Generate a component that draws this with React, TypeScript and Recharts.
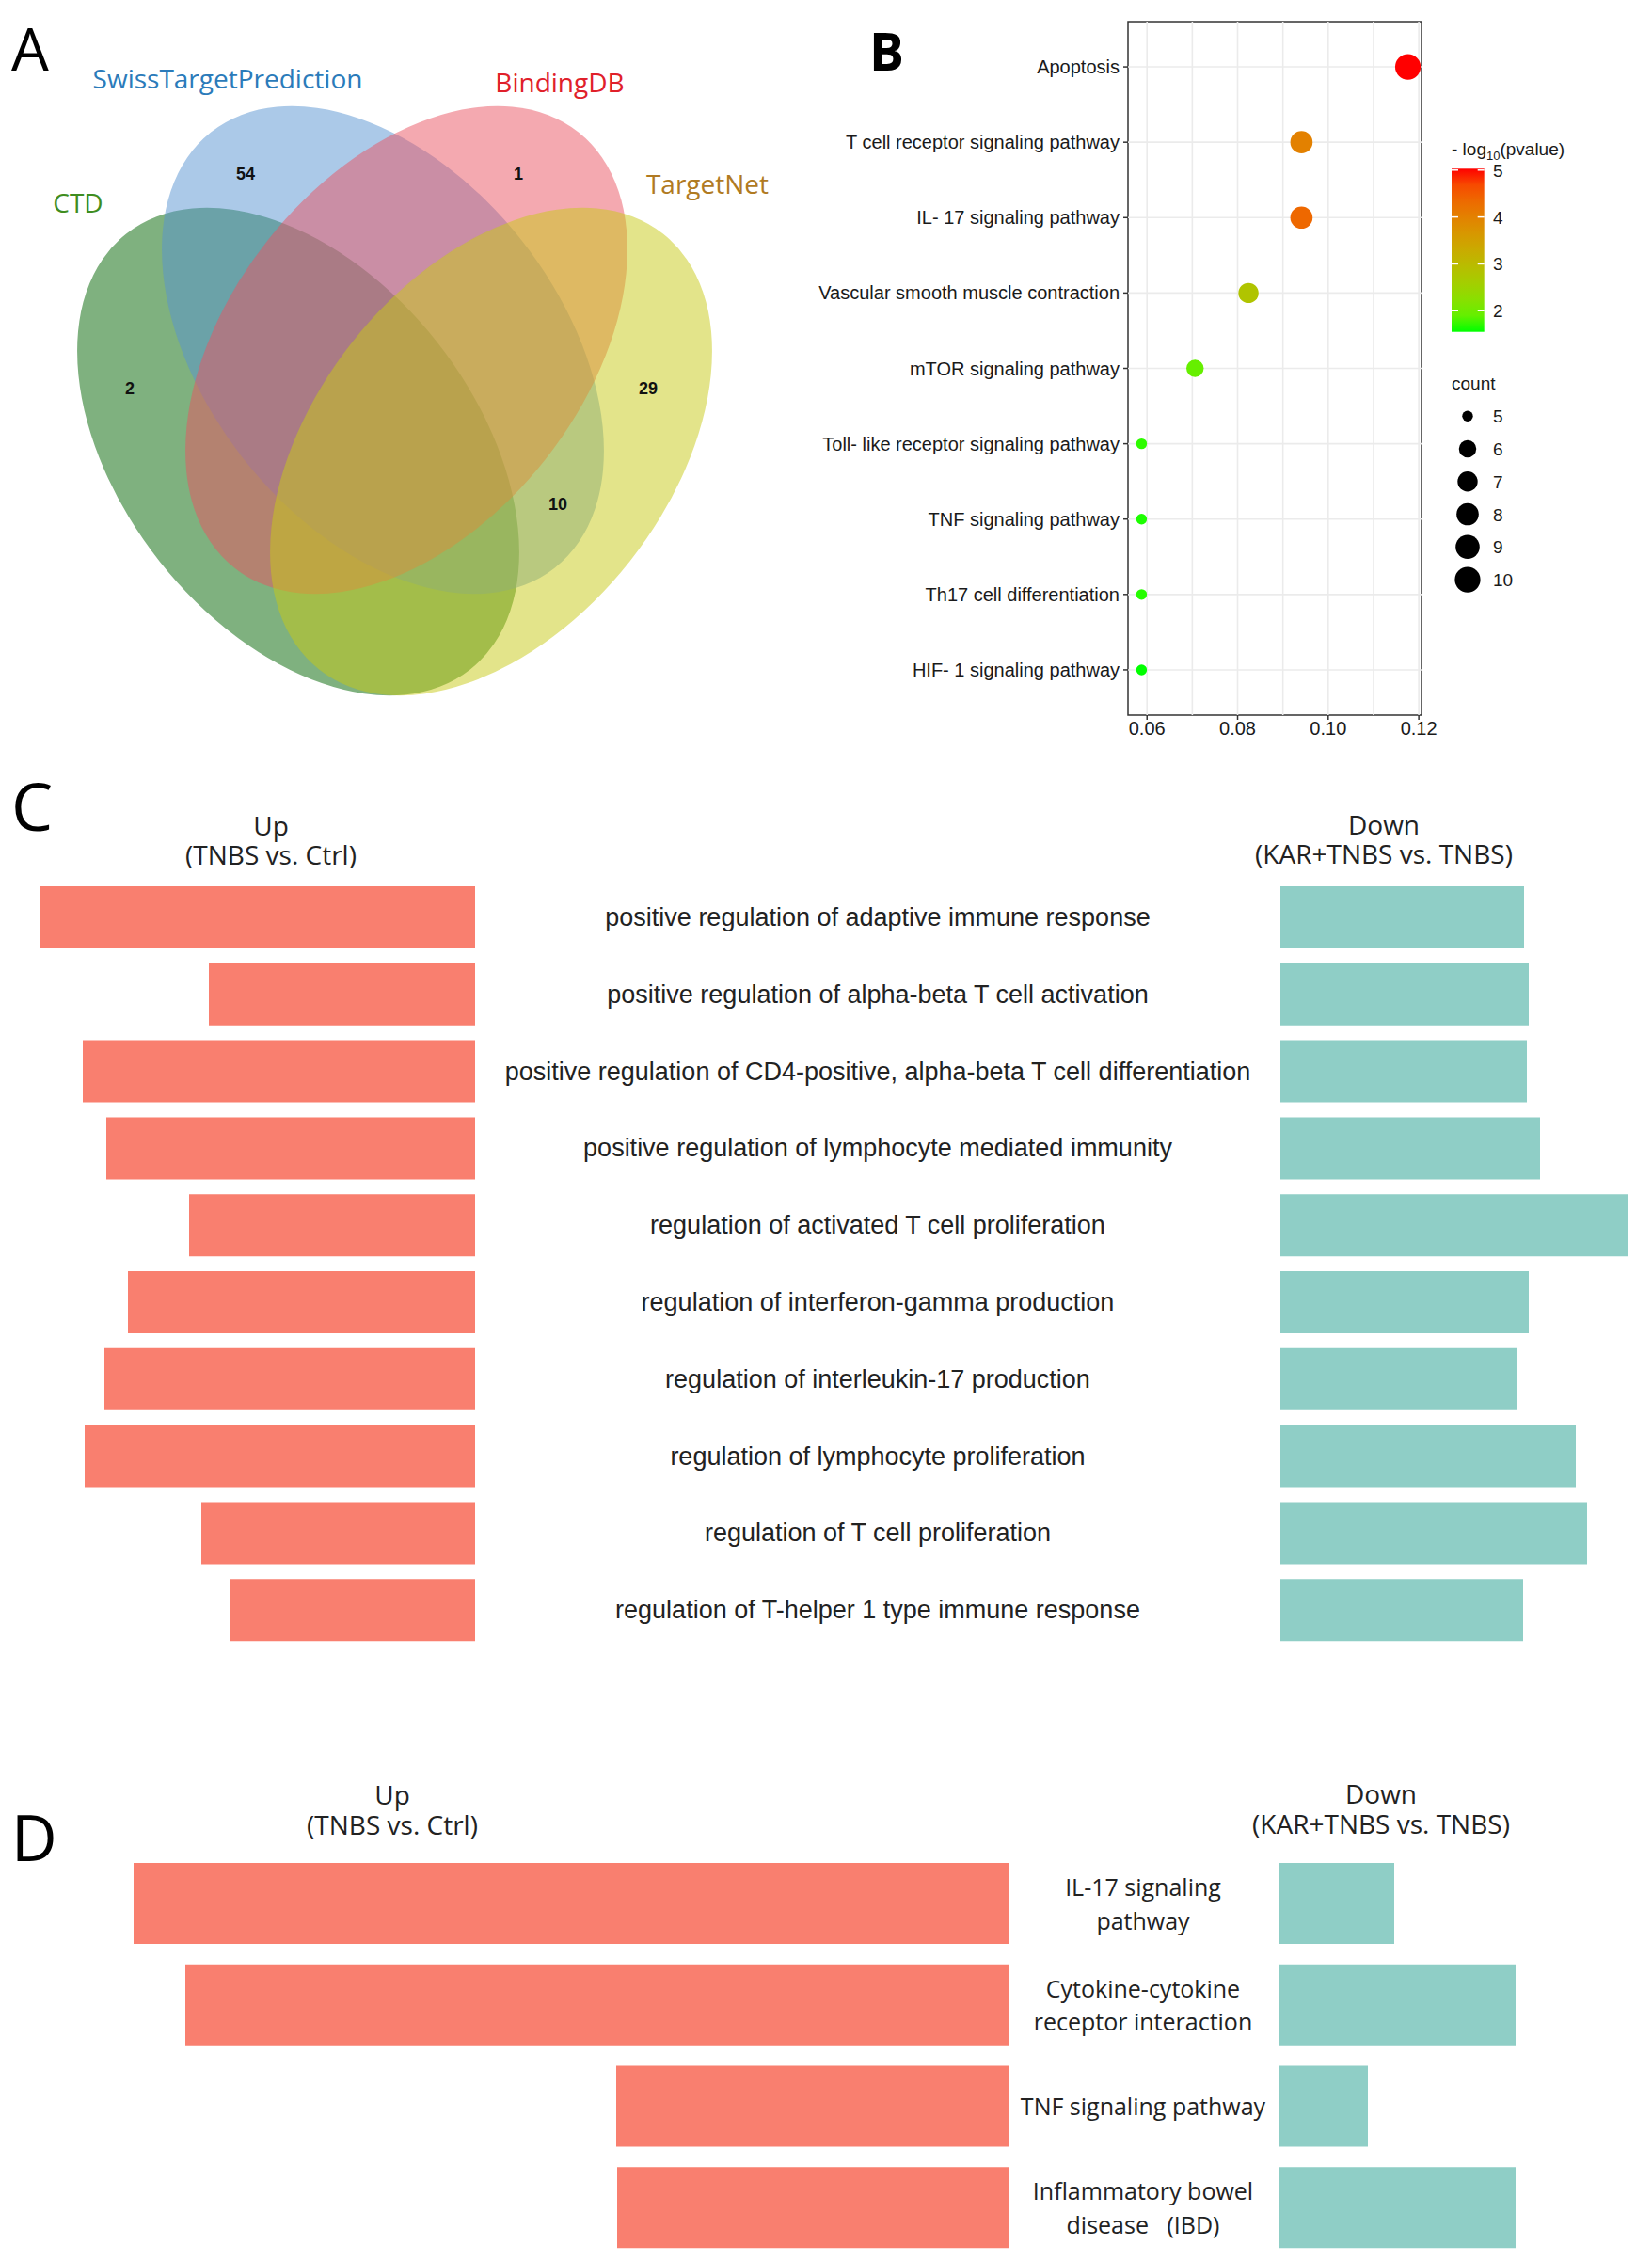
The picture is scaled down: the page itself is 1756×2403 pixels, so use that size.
import React from "react";
import {
  ScatterChart,
  Scatter,
  XAxis,
  YAxis,
  ReferenceLine,
  ReferenceArea,
  BarChart,
  Bar,
} from "recharts";

const ARIAL = "'Liberation Sans', Arial, sans-serif";
const SEGOE = "'Open Sans', 'Noto Sans', sans-serif";

// ---------- A: Venn ----------
const vennSetNames = ["CTD", "SwissTargetPrediction", "BindingDB", "TargetNet"];
const vennRegionNames = ["CTD only", "SwissTargetPrediction only", "BindingDB only", "TargetNet only", "SwissTargetPrediction & TargetNet"];
const vennRegionCounts = [2, 54, 1, 29, 10];

// layout of the diagram (pixels)
const vennEllipseLayout = [
  { x: 317, y: 480, angle: 51.7, fill: "#006400" },
  { x: 407, y: 372, angle: 51.7, fill: "#5893d2" },
  { x: 432, y: 372, angle: -51.7, fill: "#e95361" },
  { x: 522, y: 480, angle: -51.7, fill: "#c8c916" },
];
const vennNameLayout = [
  { x: 83, y: 215, color: "#3f8d20" },
  { x: 242, y: 83, color: "#2b7bba" },
  { x: 595, y: 87, color: "#e0202a" },
  { x: 752, y: 195, color: "#b07a22" },
];
const vennCountLayout = [
  { x: 138, y: 413 },
  { x: 261, y: 185 },
  { x: 551, y: 185 },
  { x: 689, y: 413 },
  { x: 593, y: 536 },
];

// ---------- B: KEGG dot plot ----------
const pathways = [
  "Apoptosis",
  "T cell receptor signaling pathway",
  "IL- 17 signaling pathway",
  "Vascular smooth muscle contraction",
  "mTOR signaling pathway",
  "Toll- like receptor signaling pathway",
  "TNF signaling pathway",
  "Th17 cell differentiation",
  "HIF- 1 signaling pathway",
];
const geneRatios = [0.1176, 0.0941, 0.0941, 0.0824, 0.0706, 0.0588, 0.0588, 0.0588, 0.0588];
const geneCounts = [10, 8, 8, 7, 6, 5, 5, 5, 5];
const negLogP = [5.03, 4.0, 4.35, 2.8, 1.9, 1.62, 1.58, 1.6, 1.55];
const ratioTicks = [0.06, 0.08, 0.1, 0.12];
const ratioGrid = [0.06, 0.07, 0.08, 0.09, 0.1, 0.11, 0.12];
const pTicks = [2, 3, 4, 5];
const countBreaks = [5, 6, 7, 8, 9, 10];

// ---------- C: GO terms ----------
const goTerms = [
  "positive regulation of adaptive immune response",
  "positive regulation of alpha-beta T cell activation",
  "positive regulation of CD4-positive, alpha-beta T cell differentiation",
  "positive regulation of lymphocyte mediated immunity",
  "regulation of activated T cell proliferation",
  "regulation of interferon-gamma production",
  "regulation of interleukin-17 production",
  "regulation of lymphocyte proliferation",
  "regulation of T cell proliferation",
  "regulation of T-helper 1 type immune response",
];
const goUp = [4.63, 2.83, 4.17, 3.92, 3.04, 3.69, 3.94, 4.15, 2.91, 2.6];
const goDown = [2.59, 2.64, 2.62, 2.76, 3.7, 2.64, 2.52, 3.14, 3.26, 2.58];

// ---------- D: KEGG terms ----------
const keggTerms = [
  "IL-17 signaling\npathway",
  "Cytokine-cytokine\nreceptor interaction",
  "TNF signaling pathway",
  "Inflammatory bowel\ndisease   (IBD)",
];
const keggUp = [9.3, 8.75, 4.17, 4.16];
const keggDown = [1.22, 2.51, 0.94, 2.51];

const UP_COLOR = "#f97f6f";
const DOWN_COLOR = "#8fcec6";

// ---------- colour scale (ggplot-like Lab gradient, green -> red) ----------
function hexToRgb(h: string) {
  return [1, 3, 5].map((i) => parseInt(h.slice(i, i + 2), 16));
}
function lin(c: number) {
  c /= 255;
  return c <= 0.04045 ? c / 12.92 : Math.pow((c + 0.055) / 1.055, 2.4);
}
function unlin(c: number) {
  const v = c <= 0.0031308 ? 12.92 * c : 1.055 * Math.pow(c, 1 / 2.4) - 0.055;
  return Math.round(Math.max(0, Math.min(1, v)) * 255);
}
function toLab(rgb: number[]) {
  const [R, G, B] = rgb.map(lin);
  const X = (0.4124564 * R + 0.3575761 * G + 0.1804375 * B) / 0.95047;
  const Y = 0.2126729 * R + 0.7151522 * G + 0.072175 * B;
  const Z = (0.0193339 * R + 0.119192 * G + 0.9503041 * B) / 1.08883;
  const f = (t: number) => (t > 216 / 24389 ? Math.cbrt(t) : ((24389 / 27) * t + 16) / 116);
  const fx = f(X), fy = f(Y), fz = f(Z);
  return [116 * fy - 16, 500 * (fx - fy), 200 * (fy - fz)];
}
function fromLab([L, a, b]: number[]) {
  const fy = (L + 16) / 116;
  const fx = fy + a / 500;
  const fz = fy - b / 200;
  const inv = (f: number) => (f * f * f > 216 / 24389 ? f * f * f : (116 * f - 16) / (24389 / 27));
  const X = inv(fx) * 0.95047, Y = inv(fy), Z = inv(fz) * 1.08883;
  const R = 3.2404542 * X - 1.5371385 * Y - 0.4985314 * Z;
  const G = -0.969266 * X + 1.8760108 * Y + 0.041556 * Z;
  const B = 0.0556434 * X - 0.2040259 * Y + 1.0572252 * Z;
  return "#" + [R, G, B].map((c) => unlin(c).toString(16).padStart(2, "0")).join("");
}
const LOW = toLab(hexToRgb("#00ff00"));
const HIGH = toLab(hexToRgb("#ff0000"));
const pMin = Math.min(...negLogP);
const pMax = Math.max(...negLogP);
function colorOf(v: number) {
  const t = Math.max(0, Math.min(1, (v - pMin) / (pMax - pMin)));
  return fromLab(LOW.map((l, i) => l + (HIGH[i] - l) * t));
}
const cMin = Math.min(...geneCounts);
const cMax = Math.max(...geneCounts);
function radiusOf(c: number) {
  return 5.7 + 7.9 * Math.sqrt((c - cMin) / (cMax - cMin));
}

// ---------- panels ----------
function VennPanel() {
  const ellipses = vennSetNames.map((name, i) => ({ name, ...vennEllipseLayout[i] }));
  const names = vennSetNames.map((name, i) => ({ name, ...vennNameLayout[i] }));
  const counts = vennRegionNames.map((region, i) => ({ region, count: vennRegionCounts[i], ...vennCountLayout[i] }));
  return (
    <div style={{ position: "absolute", left: 0, top: 0 }}>
      <ScatterChart width={860} height={780} margin={{ top: 0, right: 0, bottom: 0, left: 0 }}>
        <XAxis type="number" dataKey="x" domain={[0, 860]} hide />
        <YAxis type="number" dataKey="y" domain={[0, 780]} reversed hide />
        <Scatter
          data={ellipses}
          isAnimationActive={false}
          shape={(p: any) => (
            <ellipse
              cx={p.cx}
              cy={p.cy}
              rx={295}
              ry={188}
              transform={`rotate(${p.payload.angle} ${p.cx} ${p.cy})`}
              fill={p.payload.fill}
              fillOpacity={0.5}
            />
          )}
        />
        <Scatter
          data={names}
          isAnimationActive={false}
          shape={(p: any) => (
            <text x={p.cx} y={p.cy} textAnchor="middle" dominantBaseline="central" fontFamily={SEGOE} fontSize={28} fill={p.payload.color}>
              {p.payload.name}
            </text>
          )}
        />
        <Scatter
          data={counts}
          isAnimationActive={false}
          shape={(p: any) => (
            <text x={p.cx} y={p.cy} textAnchor="middle" dominantBaseline="central" fontFamily={ARIAL} fontWeight="bold" fontSize={18} fill="#111">
              {p.payload.count}
            </text>
          )}
        />
      </ScatterChart>
    </div>
  );
}

function DotPanel() {
  const rows = pathways.map((name, i) => ({
    name,
    row: i,
    ratio: geneRatios[i],
    count: geneCounts[i],
    logp: negLogP[i],
  }));
  const tickStyle = { fontSize: 20, fill: "#1a1a1a", fontFamily: ARIAL };
  return (
    <div style={{ position: "absolute", left: 860, top: 0 }}>
      <ScatterChart width={681} height={800} margin={{ top: 23, right: 30, bottom: 0, left: 0 }}>
        <XAxis
          type="number"
          dataKey="ratio"
          domain={[0.0558, 0.1206]}
          allowDataOverflow
          ticks={ratioTicks}
          interval={0}
          tickFormatter={(v: number) => v.toFixed(2)}
          height={40}
          tickSize={5}
          tickMargin={2}
          axisLine={false}
          tickLine={{ stroke: "#333", strokeWidth: 1.5 }}
          tick={tickStyle}
        />
        <YAxis
          type="number"
          dataKey="row"
          domain={[-0.6, 8.6]}
          reversed
          ticks={pathways.map((_, i) => i)}
          interval={0}
          tickFormatter={(i: number) => pathways[i]}
          width={339}
          tickSize={5}
          tickMargin={4}
          axisLine={false}
          tickLine={{ stroke: "#333", strokeWidth: 1.5 }}
          tick={tickStyle}
        />
        {ratioGrid.map((v) => (
          <ReferenceLine key={"gx" + v} x={v} stroke="#ebebeb" strokeWidth={1.6} />
        ))}
        {pathways.map((_, i) => (
          <ReferenceLine key={"gy" + i} y={i} stroke="#ebebeb" strokeWidth={1.6} />
        ))}
        <ReferenceArea x1={0.0558} x2={0.1206} y1={-0.6} y2={8.6} fill="none" stroke="#333" strokeWidth={1.5} />
        <Scatter
          data={rows}
          isAnimationActive={false}
          shape={(p: any) => <circle cx={p.cx} cy={p.cy} r={radiusOf(p.payload.count)} fill={colorOf(p.payload.logp)} />}
        />
      </ScatterChart>
    </div>
  );
}

function DotLegend() {
  const barTop = 179.3;
  const barBottom = 352.7;
  const yOf = (v: number) => barBottom - ((v - pMin) / (pMax - pMin)) * (barBottom - barTop);
  const stops = Array.from({ length: 11 }, (_, k) => k / 10);
  return (
    <g fontFamily={ARIAL} fill="#1a1a1a">
      <defs>
        <linearGradient id="pgrad" x1="0" y1="1" x2="0" y2="0">
          {stops.map((t) => (
            <stop key={t} offset={t} stopColor={colorOf(pMin + t * (pMax - pMin))} />
          ))}
        </linearGradient>
      </defs>
      <text x={1543} y={165} fontSize={19}>
        - log<tspan fontSize={13} dy={5}>10</tspan>
        <tspan dy={-5}>(pvalue)</tspan>
      </text>
      <rect x={1543} y={barTop} width={34.7} height={barBottom - barTop} fill="url(#pgrad)" />
      {pTicks.map((v) => (
        <g key={v}>
          <line x1={1543} x2={1550} y1={yOf(v)} y2={yOf(v)} stroke="#fff" strokeWidth={1.5} />
          <line x1={1570.7} x2={1577.7} y1={yOf(v)} y2={yOf(v)} stroke="#fff" strokeWidth={1.5} />
          <text x={1587} y={yOf(v) + 7} fontSize={19}>
            {v}
          </text>
        </g>
      ))}
      <text x={1543} y={414} fontSize={19}>
        count
      </text>
      {countBreaks.map((c, i) => (
        <g key={c}>
          <circle cx={1560} cy={442.3 + 34.75 * i} r={radiusOf(c)} fill="#000" />
          <text x={1587} y={442.3 + 34.75 * i + 7} fontSize={19}>
            {c}
          </text>
        </g>
      ))}
    </g>
  );
}

type DivProps = {
  top: number;
  height: number;
  terms: string[];
  up: number[];
  down: number[];
  upRight: number;
  upMargin: number;
  upMax: number;
  downLeft: number;
  downMax: number;
  labelX: number;
  barSize: number;
  font: string;
  fontSize: number;
  lineHeight: number;
};

function Diverging(p: DivProps) {
  const data = p.terms.map((term, i) => ({ term, up: p.up[i], down: p.down[i] }));
  const rightWidth = 1756 - p.upRight;
  const axisWidth = p.downLeft - p.upRight;
  const cx = p.labelX - p.upRight;
  const renderTick = (t: any) => {
    const lines = String(t.payload.value).split("\n");
    const y0 = t.y - ((lines.length - 1) / 2) * p.lineHeight;
    return (
      <text
        x={cx}
        y={y0}
        textAnchor="middle"
        dominantBaseline="central"
        fontFamily={p.font}
        fontSize={p.fontSize}
        fill="#222"
        style={{ whiteSpace: "pre" }}
      >
        {lines.map((l, k) => (
          <tspan key={k} x={cx} y={y0 + k * p.lineHeight}>
            {l}
          </tspan>
        ))}
      </text>
    );
  };
  return (
    <>
      <div style={{ position: "absolute", left: 0, top: p.top }}>
        <BarChart layout="vertical" width={p.upRight} height={p.height} data={data} margin={{ top: 0, right: 0, bottom: 0, left: p.upMargin }}>
          <XAxis type="number" domain={[0, p.upMax]} reversed hide />
          <YAxis type="category" dataKey="term" hide />
          <Bar dataKey="up" fill={UP_COLOR} barSize={p.barSize} isAnimationActive={false} />
        </BarChart>
      </div>
      <div style={{ position: "absolute", left: p.upRight, top: p.top }}>
        <BarChart layout="vertical" width={rightWidth} height={p.height} data={data} margin={{ top: 0, right: 0, bottom: 0, left: 0 }}>
          <XAxis type="number" domain={[0, p.downMax]} hide />
          <YAxis type="category" dataKey="term" width={axisWidth} axisLine={false} tickLine={false} interval={0} tick={renderTick} />
          <Bar dataKey="down" fill={DOWN_COLOR} barSize={p.barSize} isAnimationActive={false} />
        </BarChart>
      </div>
    </>
  );
}

function Overlay() {
  const head = { fontFamily: SEGOE, fontSize: 28, fill: "#222", textAnchor: "middle" as const };
  return (
    <svg width={1756} height={2403} style={{ position: "absolute", left: 0, top: 0, pointerEvents: "none" }}>
      <g fontFamily={SEGOE} fill="#000">
        <text x={12} y={75} fontSize={63}>A</text>
        <text x={924} y={75} fontSize={55} fontWeight="bold">B</text>
        <text x={12} y={883} fontSize={70}>C</text>
        <text x={12} y={1978} fontSize={67}>D</text>
      </g>
      <text {...head} x={288} y={888}>Up</text>
      <text {...head} x={288} y={919}>(TNBS vs. Ctrl)</text>
      <text {...head} x={1471} y={887}>Down</text>
      <text {...head} x={1471} y={918}>(KAR+TNBS vs. TNBS)</text>
      <text {...head} x={417} y={1918}>Up</text>
      <text {...head} x={417} y={1950}>(TNBS vs. Ctrl)</text>
      <text {...head} x={1468} y={1917}>Down</text>
      <text {...head} x={1468} y={1949}>(KAR+TNBS vs. TNBS)</text>
      <DotLegend />
    </svg>
  );
}

export default function App() {
  return (
    <div style={{ position: "relative", width: 1756, height: 2403, background: "#fff", overflow: "hidden" }}>
      <style>{"body{margin:0}"}</style>
      <VennPanel />
      <DotPanel />
      <Diverging
        top={934}
        height={818}
        terms={goTerms}
        up={goUp}
        down={goDown}
        upRight={505}
        upMargin={5}
        upMax={5}
        downLeft={1361}
        downMax={3.95}
        labelX={933}
        barSize={66}
        font={ARIAL}
        fontSize={27}
        lineHeight={30}
      />
      <Diverging
        top={1968.5}
        height={431}
        terms={keggTerms}
        up={keggUp}
        down={keggDown}
        upRight={1072}
        upMargin={72}
        upMax={10}
        downLeft={1360}
        downMax={3.96}
        labelX={1215}
        barSize={86}
        font={SEGOE}
        fontSize={25}
        lineHeight={35.5}
      />
      <Overlay />
    </div>
  );
}
